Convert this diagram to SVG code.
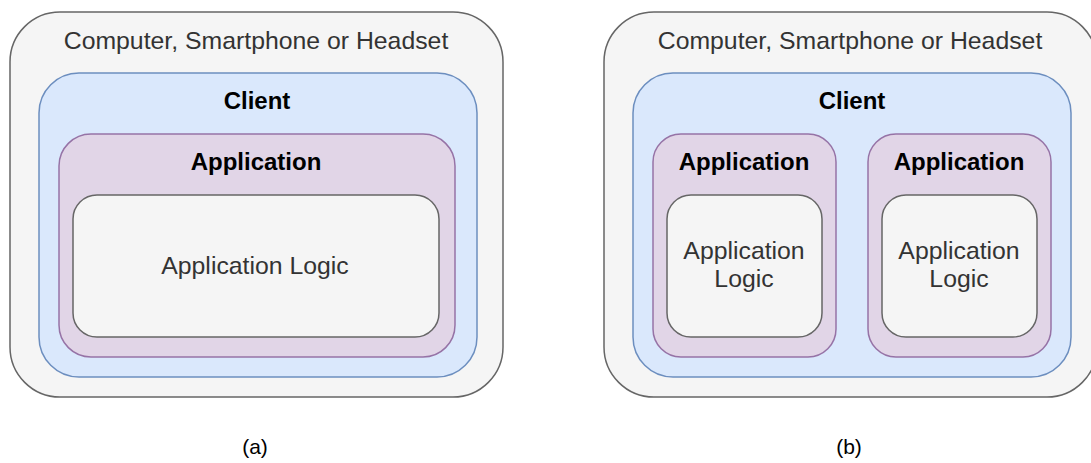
<svg xmlns="http://www.w3.org/2000/svg" width="1091" height="463" viewBox="0 0 1091 463">
  <style>
    .device { fill: #f5f5f5; stroke: #666666; stroke-width: 1.5; }
    .client { fill: #dae8fc; stroke: #6c8ebf; stroke-width: 1.5; }
    .app { fill: #e1d5e7; stroke: #9673a6; stroke-width: 1.5; }
    .logic { fill: #f5f5f5; stroke: #666666; stroke-width: 1.5; }
    text { font-family: "Liberation Sans", Arial, sans-serif; text-anchor: middle; }
    .gray { fill: #333333; font-size: 24.8px; }
    .bold { fill: #000000; font-size: 24px; font-weight: bold; }
    .caption { fill: #000000; font-size: 21px; }
  </style>

  <!-- (a): single application inside the client -->
  <g id="device-a">
    <rect class="device" x="10" y="12" width="493" height="385" rx="50" ry="50"/>
    <text class="gray" x="256" y="49">Computer, Smartphone or Headset</text>
  </g>
  <g id="client-a">
    <rect class="client" x="39" y="73" width="438" height="304" rx="40" ry="40"/>
    <text class="bold" x="257" y="109">Client</text>
  </g>
  <g id="app-a">
    <rect class="app" x="59" y="134" width="396" height="223" rx="32" ry="32"/>
    <text class="bold" x="256" y="170">Application</text>
  </g>
  <g id="logic-a">
    <rect class="logic" x="73" y="195" width="366" height="142" rx="24" ry="24"/>
    <text class="gray" x="255" y="274">Application Logic</text>
  </g>
  <text id="caption-a" class="caption" x="255" y="454">(a)</text>

  <!-- (b): two applications inside the client -->
  <g id="device-b">
    <rect class="device" x="604" y="12" width="493" height="385" rx="50" ry="50"/>
    <text class="gray" x="850" y="49">Computer, Smartphone or Headset</text>
  </g>
  <g id="client-b">
    <rect class="client" x="633" y="73" width="438" height="304" rx="40" ry="40"/>
    <text class="bold" x="852" y="109">Client</text>
  </g>
  <g id="app-b1">
    <rect class="app" x="653" y="134" width="183" height="223" rx="28" ry="28"/>
    <text class="bold" x="744" y="170">Application</text>
  </g>
  <g id="logic-b1">
    <rect class="logic" x="667" y="195" width="155" height="142" rx="24" ry="24"/>
    <text class="gray" x="744" y="259">Application</text>
    <text class="gray" x="744" y="287">Logic</text>
  </g>
  <g id="app-b2">
    <rect class="app" x="868" y="134" width="183" height="223" rx="28" ry="28"/>
    <text class="bold" x="959" y="170">Application</text>
  </g>
  <g id="logic-b2">
    <rect class="logic" x="882" y="195" width="155" height="142" rx="24" ry="24"/>
    <text class="gray" x="959" y="259">Application</text>
    <text class="gray" x="959" y="287">Logic</text>
  </g>
  <text id="caption-b" class="caption" x="849" y="454">(b)</text>

  <!-- no connectors in this figure -->
  <g id="connectors"/>
</svg>
